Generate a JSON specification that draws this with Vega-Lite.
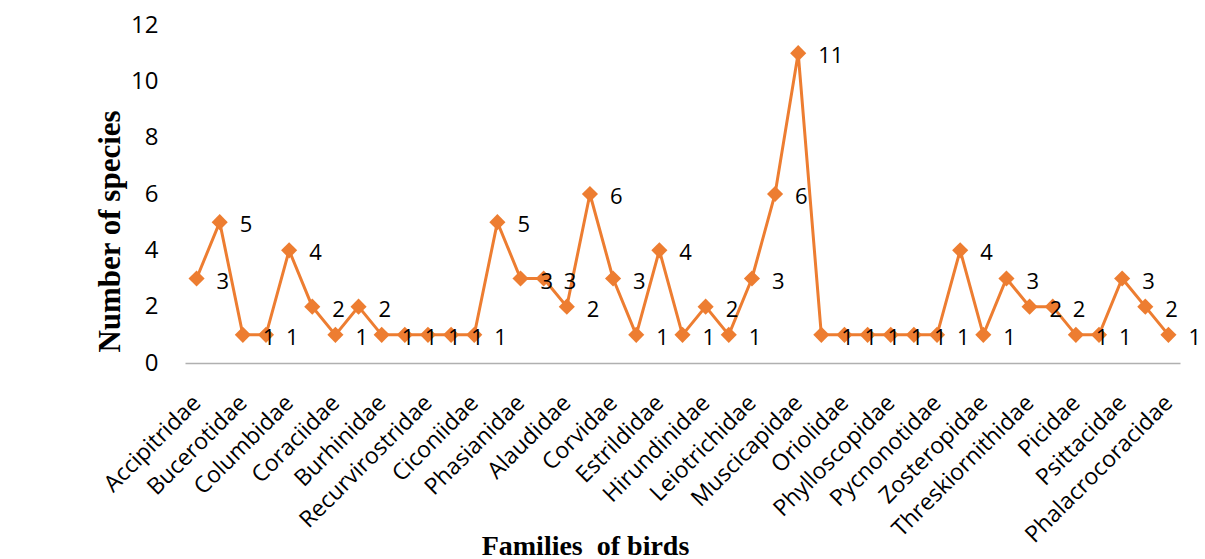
{
  "$schema": "https://vega.github.io/schema/vega-lite/v6.json",
  "autosize": {"type": "none"},
  "width": 995,
  "height": 338,
  "padding": {"left": 185, "top": 25, "right": 25, "bottom": 196},
  "background": "white",
  "config": {"view": {"stroke": null}},
  "data": {
    "values": [
      {"family": "Accipitridae", "species": 3},
      {"family": "#2", "species": 5},
      {"family": "Bucerotidae", "species": 1},
      {"family": "#4", "species": 1},
      {"family": "Columbidae", "species": 4},
      {"family": "#6", "species": 2},
      {"family": "Coraciidae", "species": 1},
      {"family": "#8", "species": 2},
      {"family": "Burhinidae", "species": 1},
      {"family": "#10", "species": 1},
      {"family": "Recurvirostridae", "species": 1},
      {"family": "#12", "species": 1},
      {"family": "Ciconiidae", "species": 1},
      {"family": "#14", "species": 5},
      {"family": "Phasianidae", "species": 3},
      {"family": "#16", "species": 3},
      {"family": "Alaudidae", "species": 2},
      {"family": "#18", "species": 6},
      {"family": "Corvidae", "species": 3},
      {"family": "#20", "species": 1},
      {"family": "Estrildidae", "species": 4},
      {"family": "#22", "species": 1},
      {"family": "Hirundinidae", "species": 2},
      {"family": "#24", "species": 1},
      {"family": "Leiotrichidae", "species": 3},
      {"family": "#26", "species": 6},
      {"family": "Muscicapidae", "species": 11},
      {"family": "#28", "species": 1},
      {"family": "Oriolidae", "species": 1},
      {"family": "#30", "species": 1},
      {"family": "Phylloscopidae", "species": 1},
      {"family": "#32", "species": 1},
      {"family": "Pycnonotidae", "species": 1},
      {"family": "#34", "species": 4},
      {"family": "Zosteropidae", "species": 1},
      {"family": "#36", "species": 3},
      {"family": "Threskiornithidae", "species": 2},
      {"family": "#38", "species": 2},
      {"family": "Picidae", "species": 1},
      {"family": "#40", "species": 1},
      {"family": "Psittacidae", "species": 3},
      {"family": "#42", "species": 2},
      {"family": "Phalacrocoracidae", "species": 1}
    ]
  },
  "encoding": {
    "x": {
      "field": "family",
      "type": "nominal",
      "sort": null,
      "scale": {"type": "point", "padding": 0.5},
      "axis": {
        "title": "Families\u00a0\u00a0of birds",
        "labelExpr": "indexof(datum.value, '#') == 0 ? '' : datum.value",
        "labelAngle": -45,
        "labelAlign": "right",
        "labelBaseline": "middle",
        "labelPadding": 36,
        "labelFont": "Open Sans",
        "labelFontSize": 23,
        "labelColor": "#000000",
        "labelOverlap": false,
        "labelBound": false,
        "labelLimit": 0,
        "ticks": false,
        "domainColor": "#b0b0b0",
        "domainWidth": 1.5,
        "titleFont": "Liberation Serif",
        "titleFontSize": 28,
        "titleFontWeight": "bold",
        "titleColor": "#000000",
        "titleX": 400,
        "titleY": 191,
        "titleAlign": "center",
        "titleBaseline": "alphabetic"
      }
    },
    "y": {
      "field": "species",
      "type": "quantitative",
      "scale": {"domain": [0, 12]},
      "axis": {
        "values": [0, 2, 4, 6, 8, 10, 12],
        "title": "Number of species",
        "grid": false,
        "domain": false,
        "ticks": false,
        "labelPadding": 27,
        "labelFont": "Open Sans",
        "labelFontSize": 24,
        "labelColor": "#000000",
        "titleFont": "Liberation Serif",
        "titleFontSize": 31,
        "titleFontWeight": "bold",
        "titleColor": "#000000",
        "titleAngle": -90,
        "titleX": -75,
        "titleY": 206,
        "titleAlign": "center",
        "titleBaseline": "middle"
      }
    }
  },
  "layer": [
    {"mark": {"type": "line", "color": "#ED7D31", "strokeWidth": 3}},
    {"mark": {"type": "point", "shape": "diamond", "filled": true, "size": 260, "color": "#ED7D31", "opacity": 1}},
    {
      "mark": {"type": "text", "align": "left", "baseline": "middle", "dx": 20, "dy": 3, "font": "Open Sans", "fontSize": 22, "color": "#000000"},
      "encoding": {"text": {"field": "species", "type": "quantitative"}}
    }
  ]
}
